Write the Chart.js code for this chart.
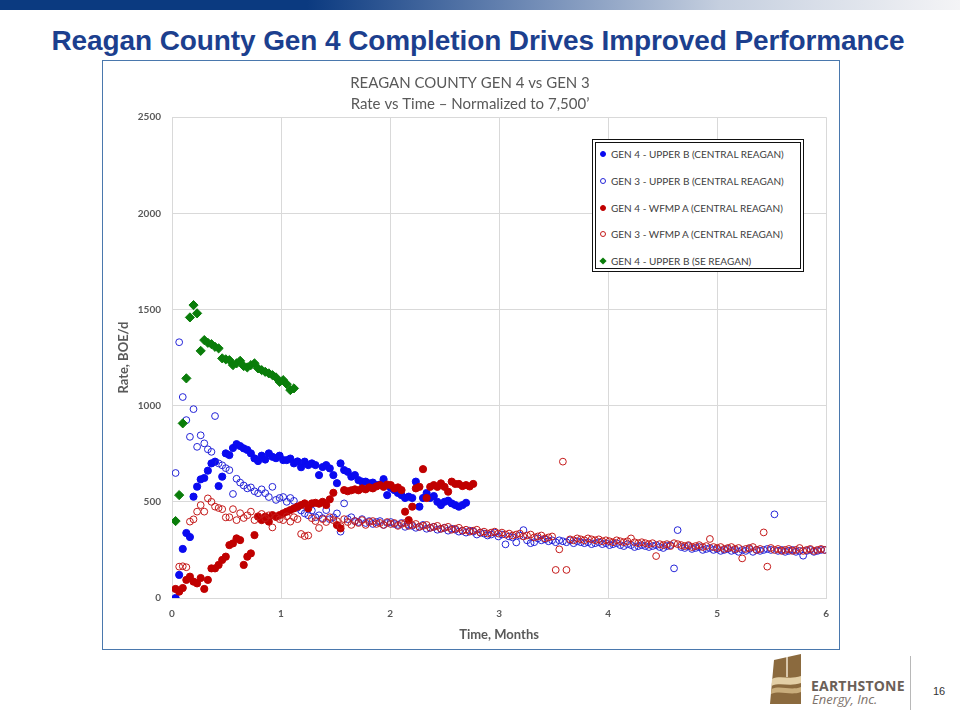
<!DOCTYPE html>
<html>
<head>
<meta charset="utf-8">
<script src="https://cdn.jsdelivr.net/npm/chart.js@4.4.1/dist/chart.umd.min.js"></script>
<style>
  body { margin:0; width:960px; height:720px; background:#fff; position:relative; overflow:hidden; font-family:'Liberation Sans', Arial, sans-serif; }
  #topbar { position:absolute; left:0; top:0; width:960px; height:10px;
    background:linear-gradient(90deg,#0b3a80 0%,#0b3a80 32%,#6f8ab5 55%,#c5cfdf 75%,#f4f4f6 100%); }
  #slide-title { position:absolute; left:0; top:25px; width:956px; text-align:center; font-weight:bold; font-size:28px; color:#1c3f8e; letter-spacing:-0.1px; }
  #chart-box { position:absolute; left:102px; top:60px; width:736px; height:588px; border:1px solid #4a78ad; }
  #chart { position:absolute; left:0; top:0; }
  #legend { position:absolute; left:592px; top:139px; width:204px; height:125px; border:4px double #111; background:#fff; }
  .lg-item { position:absolute; left:0; height:14px; line-height:14px; font-family:Lato, sans-serif; font-size:10px; color:#404040; white-space:nowrap; }
  .lg-mark { position:absolute; left:4px; top:4px; width:6px; height:6px; box-sizing:border-box; }
  .lg-text { position:absolute; left:15px; top:0; }
  #logo { position:absolute; left:768px; top:653px; }
  #logo-name { position:absolute; left:811px; top:676px; font-family:'Open Sans', sans-serif; font-weight:bold; font-size:14px; color:#6b6058; letter-spacing:0.2px; }
  #logo-sub { position:absolute; left:812px; top:690px; font-family:'Open Sans', sans-serif; font-style:italic; font-size:13px; color:#7d726a; }
  #sep { position:absolute; left:910px; top:656px; width:1px; height:54px; background:#b8b8b8; }
  #page-num { position:absolute; left:933px; top:685px; font-size:11px; color:#333; }
</style>
</head>
<body>
<div id="topbar"></div>
<div id="slide-title">Reagan County Gen 4 Completion Drives Improved Performance</div>
<div id="chart-box"><canvas id="chart" width="736" height="588"></canvas></div>
<div id="legend"></div>
<svg id="logo" width="42" height="54" viewBox="0 0 42 54">
  <path d="M6 7 L33 1 L33 51 L2 51 Z" fill="#8b6a3e"/>
  <path d="M4 26 C12 22 22 27 33 23 L33 30 C22 34 12 29 3.5 33 Z" fill="#e3cfa6"/>
  <path d="M3.5 36 C13 32 22 38 33 34 L33 39 C22 43 13 37 3 41 Z" fill="#c9ad7c"/>
  <path d="M19 4 L19 24" stroke="#f2e7d2" stroke-width="1.5"/>
</svg>
<div id="logo-name">EARTHSTONE</div>
<div id="logo-sub">Energy, Inc.</div>
<div id="sep"></div>
<div id="page-num">16</div>
<script>
// time axis is in months; every series is sampled once a day
const DAYS_PER_MONTH = 30.4;

const seriesLabels = [
  'GEN 4 - UPPER B (CENTRAL REAGAN)',
  'GEN 3 - UPPER B (CENTRAL REAGAN)',
  'GEN 4 - WFMP A (CENTRAL REAGAN)',
  'GEN 3 - WFMP A (CENTRAL REAGAN)',
  'GEN 4 - UPPER B (SE REAGAN)'
];

const xTicks = [0, 1, 2, 3, 4, 5, 6];
const yTicks = [0, 500, 1000, 1500, 2000, 2500];

// BOE/d by producing day (day 1, 2, 3 ...); null = no reading
const gen4UpperBCentral = [
  0, 120, 255, 338, 317, 527, 579, 617, 624, 662,
  700, 709, 582, 631, 752, 743, 780, 800, 790, 778,
  770, 752, 726, 712, 740, 720, 752, 734, 727, 740,
  717, 717, 725, 700, 710, 680, 709, 691, 700, 691,
  639, 681, 691, 674, 639, 597, 700, 665, 656, 631,
  639, 613, 605, 605, 596, 600, 587, 590, 618, 535,
  572, 561, 546, 535, 520, 527, 520, 605, 475, 520,
  546, 520, 530, 500, 483, 500, 506, 492, 483, 475,
  483, 495
];

const gen3UpperBCentral = [
  650, 1330, 1045, 925, 838, 982, 786, 846, 804, 773,
  760, 946, 700, 690, 675, 665, 541, 620, 600, 585,
  570, 575, 555, 545, 565, 545, 525, 578, 510, 520,
  525, 500, 520, 505, 470, 455, 440, 430, 455, 420,
  430, 415, 457, 410, 420, 440, 345, 492, 410, 420,
  400, 395, 410, 390, 400, 385, 395, 400, 380, 390,
  395, 385, 380, 390, 370, 380, 375, 365, 370, 380,
  360, 365, 370, 355, 360, 365, 350, 360, 355, 345,
  350, 340, 350, 345, 330, 340, 335, 325, 330, 340,
  320, 330, 279, 320, 315, 289, 325, 353, 300, 285,
  290, 310, 300, 305, 295, 300, 290, 300, 295, 290,
  300, 285, 295, 290, 285, 290, 280, 285, 290, 280,
  285, 275, 280, 285, 275, 270, 280, 275, 265, 270,
  275, 270, 265, 270, 275, 265, 260, 270, 275, 154,
  353, 265, 260, 270, 255, 260, 265, 250, 255, 260,
  250, 255, 245, 250, 255, 245, 250, 240, 250, 245,
  255, 240, 250, 245, 250, 255, 250, 435, 245, 250,
  240, 245, 250, 240, 245, 220, 245, 250, 240, 245,
  250, 250
];

const gen4WfmpACentral = [
  47, 33, 52, 94, 111, 85, 76, 104, 47, 94,
  154, 154, 172, 198, 215, 275, 284, 310, 301, 172,
  215, 232, 327, 423, 405, 423, 397, 431, 423, 431,
  440, 449, 457, 466, 475, 483, 492, 466, 492, 495,
  490, 500, 483, 513, 547, 379, 362, 561, 555, 560,
  565, 560, 570, 565, 575, 570, 580, 587, 578, 590,
  587, 570, 575, 561, 449, 405, 475, 570, 578, 670,
  520, 578, 587, 578, 596, 578, 553, 605, 593, 593,
  582, 587, 580, 593
];

const gen3WfmpACentral = [
  null, 163, 165, 160, 397, 409, 449, 483, 449, 518,
  500, 475, 468, 462, 419, 420, 462, 405, 441, 416,
  430, 449, 405, 425, 437, 415, 430, 367, 420, 410,
  405, 425, 397, 420, 410, 333, 322, 325, 415, 400,
  364, 410, 395, 420, 405, 400, 374, 410, 395, 380,
  400, 390, 405, 380, 395, 400, 385, 390, 380, 395,
  385, 390, 375, 385, 390, 375, 380, 385, 370, 375,
  380, 365, 370, 375, 360, 365, 370, 355, 360, 365,
  350, 355, 345, 350, 355, 340, 345, 335, 340, 345,
  335, 340, 330, 335, 325, 330, 335, 320, 325, 330,
  315, 320, 325, 310, 315, 320, 146, 253, 709, 146,
  305, 300, 310, 305, 300, 310, 305, 300, 305, 295,
  300, 295, 290, 300, 295, 290, 295, 310, 290, 285,
  290, 285, 280, 285, 218, 280, 275, 280, 270, 285,
  280, 275, 270, 275, 265, 270, 275, 265, 270, 307,
  265, 260, 265, 255, 260, 265, 255, 260, 206, 255,
  260, 265, 250, 255, 341, 163, 260, 250, 255, 245,
  250, 255, 245, 250, 260, 245, 250, 255, 245, 250,
  255, 250
];

const gen4UpperBSe = [
  400, 535, 908, 1142, 1459, 1523, 1480, 1285, 1341, 1327,
  1320, 1306, 1298, 1246, 1241, 1237, 1211, 1220, 1233, 1206,
  1199, 1211, 1220, 1194, 1185, 1176, 1168, 1159, 1147, 1124,
  1133, 1112, 1081, 1090
];

function toPoints(values) {
  const pts = [];
  values.forEach((v, i) => {
    if (v === null) return;
    pts.push({ x: (i + 1) / DAYS_PER_MONTH, y: v });
  });
  return pts;
}

const BLUE = '#0a0af0';
const RED = '#c00000';
const GREEN = '#0a7d0a';

const datasets = [
  { label: seriesLabels[0], data: toPoints(gen4UpperBCentral), pointStyle: 'circle', pointRadius: 3.6,
    backgroundColor: BLUE, borderColor: BLUE, borderWidth: 1, order: 5, _fill: true },
  { label: seriesLabels[1], data: toPoints(gen3UpperBCentral), pointStyle: 'circle', pointRadius: 3.4,
    backgroundColor: 'rgba(0,0,0,0)', borderColor: '#2424d8', borderWidth: 1, order: 4, _fill: false },
  { label: seriesLabels[2], data: toPoints(gen4WfmpACentral), pointStyle: 'circle', pointRadius: 3.6,
    backgroundColor: RED, borderColor: RED, borderWidth: 1, order: 3, _fill: true },
  { label: seriesLabels[3], data: toPoints(gen3WfmpACentral), pointStyle: 'circle', pointRadius: 3.4,
    backgroundColor: 'rgba(0,0,0,0)', borderColor: '#c41a1a', borderWidth: 1, order: 2, _fill: false },
  { label: seriesLabels[4], data: toPoints(gen4UpperBSe), pointStyle: 'rectRot', pointRadius: 4.6,
    backgroundColor: GREEN, borderColor: GREEN, borderWidth: 1, order: 1, _fill: true }
];

const tickFont = { family: 'Lato', size: 10, weight: 'bold' };
const axisTitleFont = { family: 'Lato', size: 13, weight: 'bold' };
const gridColor = '#d9d9d9';

const chart = new Chart(document.getElementById('chart'), {
  type: 'scatter',
  data: { datasets: datasets },
  options: {
    responsive: false,
    animation: false,
    events: [],
    layout: { padding: { left: 8, right: 10, top: 0, bottom: 6 } },
    plugins: {
      legend: { display: false },
      tooltip: { enabled: false },
      title: {
        display: true,
        text: ['REAGAN COUNTY GEN 4 vs GEN 3', 'Rate vs Time \u2013 Normalized to 7,500\u2019'],
        color: '#595959',
        font: { family: 'Lato', size: 15, weight: 'normal', lineHeight: 1.44 },
        padding: { top: 11, bottom: 2 }
      }
    },
    scales: {
      x: {
        type: 'linear', min: xTicks[0], max: xTicks[xTicks.length - 1],
        afterBuildTicks: s => { s.ticks = xTicks.map(v => ({ value: v })); },
        afterFit: s => { s.height = 45; },
        ticks: { color: '#595959', font: tickFont, padding: 10, callback: v => String(v) },
        grid: { color: gridColor, drawTicks: false },
        border: { color: gridColor },
        title: { display: true, text: 'Time, Months', color: '#595959', font: axisTitleFont, padding: { top: 0, bottom: 0 } }
      },
      y: {
        type: 'linear', min: yTicks[0], max: yTicks[yTicks.length - 1],
        afterBuildTicks: s => { s.ticks = yTicks.map(v => ({ value: v })); },
        afterFit: s => { s.width = 61; },
        ticks: { color: '#595959', font: tickFont, padding: 11, callback: v => String(v) },
        grid: { color: gridColor, drawTicks: false },
        border: { color: gridColor },
        title: { display: true, text: 'Rate, BOE/d', color: '#595959', font: axisTitleFont, padding: { top: 5, bottom: 0 } }
      }
    }
  }
});

// legend box sits inside the plot, built from the datasets
const legendEl = document.getElementById('legend');
chart.data.datasets.forEach((ds, i) => {
  const item = document.createElement('div');
  item.className = 'lg-item';
  item.style.top = (4.3 + i * 26.7) + 'px';
  const mark = document.createElement('div');
  mark.className = 'lg-mark';
  if (ds.pointStyle === 'rectRot') {
    mark.style.background = ds.backgroundColor;
    mark.style.transform = 'rotate(45deg) scale(0.85)';
  } else {
    mark.style.borderRadius = '50%';
    mark.style.border = '1px solid ' + ds.borderColor;
    mark.style.background = ds._fill ? ds.backgroundColor : '#fff';
  }
  const txt = document.createElement('span');
  txt.className = 'lg-text';
  txt.textContent = ds.label;
  item.appendChild(mark);
  item.appendChild(txt);
  legendEl.appendChild(item);
});
</script>
</body>
</html>
